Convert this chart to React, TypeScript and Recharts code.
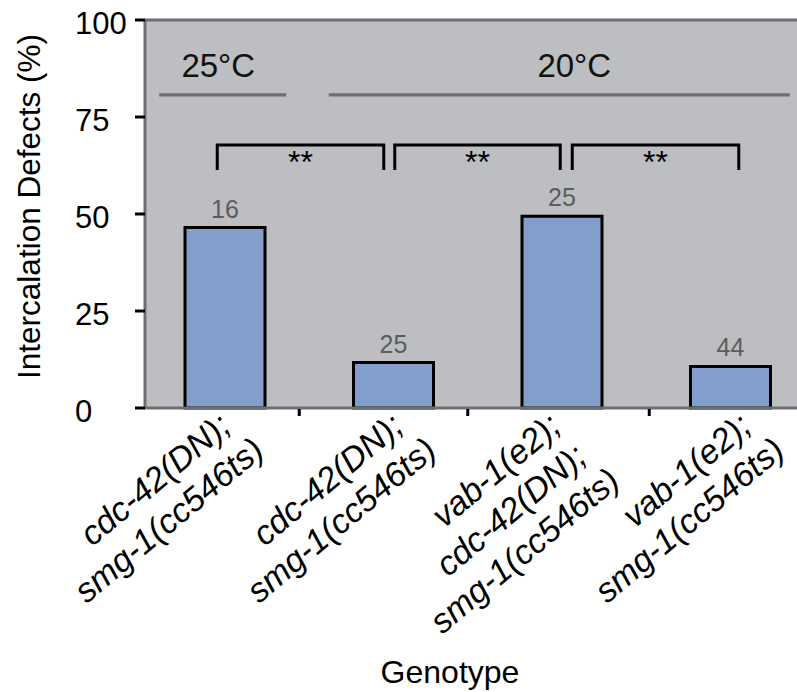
import { BarChart, Bar, XAxis, YAxis, CartesianGrid, ReferenceLine, LabelList, Label } from 'recharts';

// category keys (first two share a genotype, different temperature)
const genotypes = [
    'cdc-42(DN); smg-1(cc546ts) @25°C',
    'cdc-42(DN); smg-1(cc546ts) @20°C',
    'vab-1(e2); cdc-42(DN); smg-1(cc546ts) @20°C',
    'vab-1(e2); smg-1(cc546ts) @20°C',
];
const genotypeLines = [
    ['cdc-42(DN);', 'smg-1(cc546ts)'],
    ['cdc-42(DN);', 'smg-1(cc546ts)'],
    ['vab-1(e2);', 'cdc-42(DN);', 'smg-1(cc546ts)'],
    ['vab-1(e2);', 'smg-1(cc546ts)'],
];
const defects = [46.5, 11.7, 49.4, 10.7];
const embryos = [16, 25, 25, 44];
const yTicks = [0, 25, 50, 75, 100];

const temperatureGroups = [
    { label: '25°C', from: 0, to: 0 },
    { label: '20°C', from: 1, to: 3 },
];
const comparisons = [
    { from: 0, to: 1, mark: '**' },
    { from: 1, to: 2, mark: '**' },
    { from: 2, to: 3, mark: '**' },
];
const TEMP_Y = 80.7;
const BRACKET_Y = 67.8;

// purely cosmetic pixel nudges to follow the hand-placed original
const tempLineExtent = [[-66, 61], [-65, 59]];
const tempTextShift = [-7, 12];
const bracketInset = [[-8, -10], [1, -2], [10, 8]];
const tickLabelShift = [15, 19, 8, 30];
const tickMarkShift = [74, 74, 87];

const FONT = '"Liberation Sans", Arial, Helvetica, sans-serif';
const AXIS_GRAY = '#6d6e71';
const PLOT_BG = '#bcbec1';
const BAR_FILL = '#829fcc';

const data = genotypes.map((g, i) => ({ genotype: g, defects: defects[i], n: embryos[i] }));

const GenotypeTick = (props: any) => {
    const { x, y, payload } = props;
    const i = payload.index;
    const lines = genotypeLines[i] || [];
    const ax = x + tickLabelShift[i];
    const ay = y + 15;
    return (
        <g>
            {i < genotypes.length - 1 && (
                <line x1={x + tickMarkShift[i]} x2={x + tickMarkShift[i]} y1={y + 1} y2={y + 8} stroke="#000" strokeWidth={3} />
            )}
            <text
                transform={`translate(${ax},${ay}) rotate(-40)`}
                textAnchor="end"
                fontFamily={FONT}
                fontSize={34}
                fontStyle="italic"
                fill="#000"
            >
                {lines.map((t, k) => (
                    <tspan key={k} x={t.endsWith(';') ? -10 : 0} y={k * 40}>{t}</tspan>
                ))}
            </text>
        </g>
    );
};

const PercentTick = (props: any) => {
    const { y, payload } = props;
    return (
        <text x={75} y={y + 14} textAnchor="start" fontFamily={FONT} fontSize={31} fill="#000">
            {payload.value}
        </text>
    );
};

const App = () => {
    return (
        <div style={{ position: 'absolute', left: 0, top: 0, width: 797, height: 692, overflow: 'hidden', background: '#fff' }}>
            <BarChart width={830} height={692} data={data} margin={{ top: 20, right: 15, bottom: 0, left: 0 }}>
                <CartesianGrid fill={PLOT_BG} stroke="none" horizontal={false} vertical={false} />
                <XAxis
                    dataKey="genotype"
                    height={284}
                    padding={{ left: -4, right: 0 }}
                    axisLine={{ stroke: AXIS_GRAY, strokeWidth: 3 }}
                    tickLine={false}
                    tickSize={0}
                    tickMargin={0}
                    interval={0}
                    tick={(p: any) => <GenotypeTick {...p} />}
                >
                    <Label
                        content={(p: any) => {
                            const vb = p.viewBox ?? { x: 145, y: 408 };
                            return (
                                <text x={vb.x + 305} y={vb.y + 275} textAnchor="middle" fontFamily={FONT} fontSize={32} fill="#000">
                                    Genotype
                                </text>
                            );
                        }}
                    />
                </XAxis>
                <YAxis
                    domain={[0, 100]}
                    ticks={yTicks}
                    width={145}
                    interval={0}
                    axisLine={{ stroke: AXIS_GRAY, strokeWidth: 3 }}
                    tickLine={{ stroke: '#000', strokeWidth: 3 }}
                    tickSize={10}
                    tick={(p: any) => <PercentTick {...p} />}
                >
                    <Label
                        content={(p: any) => {
                            const vb = p.viewBox ?? { x: 0, y: 20, width: 145, height: 388 };
                            return (
                                <text
                                    transform={`translate(${vb.x + 40},${vb.y + vb.height / 2 - 7.5}) rotate(-90)`}
                                    textAnchor="middle"
                                    fontFamily={FONT}
                                    fontSize={31.5}
                                    fill="#000"
                                >
                                    Intercalation Defects (%)
                                </text>
                            );
                        }}
                    />
                </YAxis>
                <ReferenceLine y={100} stroke={AXIS_GRAY} strokeWidth={3} />
                {temperatureGroups.map((g, i) => (
                    <ReferenceLine
                        key={g.label}
                        segment={[{ x: genotypes[g.from], y: TEMP_Y }, { x: genotypes[g.to], y: TEMP_Y }]}
                        shape={(p: any) => (
                            <g>
                                <line
                                    x1={p.x1 + tempLineExtent[i][0]}
                                    x2={p.x2 + tempLineExtent[i][1]}
                                    y1={p.y1}
                                    y2={p.y1}
                                    stroke={AXIS_GRAY}
                                    strokeWidth={3.3}
                                />
                                <text
                                    x={(p.x1 + p.x2) / 2 + tempTextShift[i]}
                                    y={p.y1 - 18}
                                    textAnchor="middle"
                                    fontFamily={FONT}
                                    fontSize={33}
                                    fill="#111"
                                >
                                    {g.label}
                                </text>
                            </g>
                        )}
                    />
                ))}
                {comparisons.map((c, i) => (
                    <ReferenceLine
                        key={`cmp-${i}`}
                        segment={[{ x: genotypes[c.from], y: BRACKET_Y }, { x: genotypes[c.to], y: BRACKET_Y }]}
                        shape={(p: any) => {
                            const left = p.x1 + bracketInset[i][0];
                            const right = p.x2 + bracketInset[i][1];
                            return (
                                <g>
                                    <path
                                        d={`M${left},${p.y1 + 25} V${p.y1} H${right} V${p.y1 + 25}`}
                                        fill="none"
                                        stroke="#000"
                                        strokeWidth={3}
                                    />
                                    <text
                                        x={(left + right) / 2}
                                        y={p.y1 + 28}
                                        textAnchor="middle"
                                        fontFamily={FONT}
                                        fontSize={32}
                                        fill="#000"
                                    >
                                        {c.mark}
                                    </text>
                                </g>
                            );
                        }}
                    />
                ))}
                <Bar dataKey="defects" fill={BAR_FILL} stroke="#000" strokeWidth={3} barSize={80} isAnimationActive={false}>
                    <LabelList dataKey="n" position="top" offset={10} fill="#5b5c5e" fontSize={25} fontFamily={FONT} />
                </Bar>
            </BarChart>
        </div>
    );
};

export default App;
